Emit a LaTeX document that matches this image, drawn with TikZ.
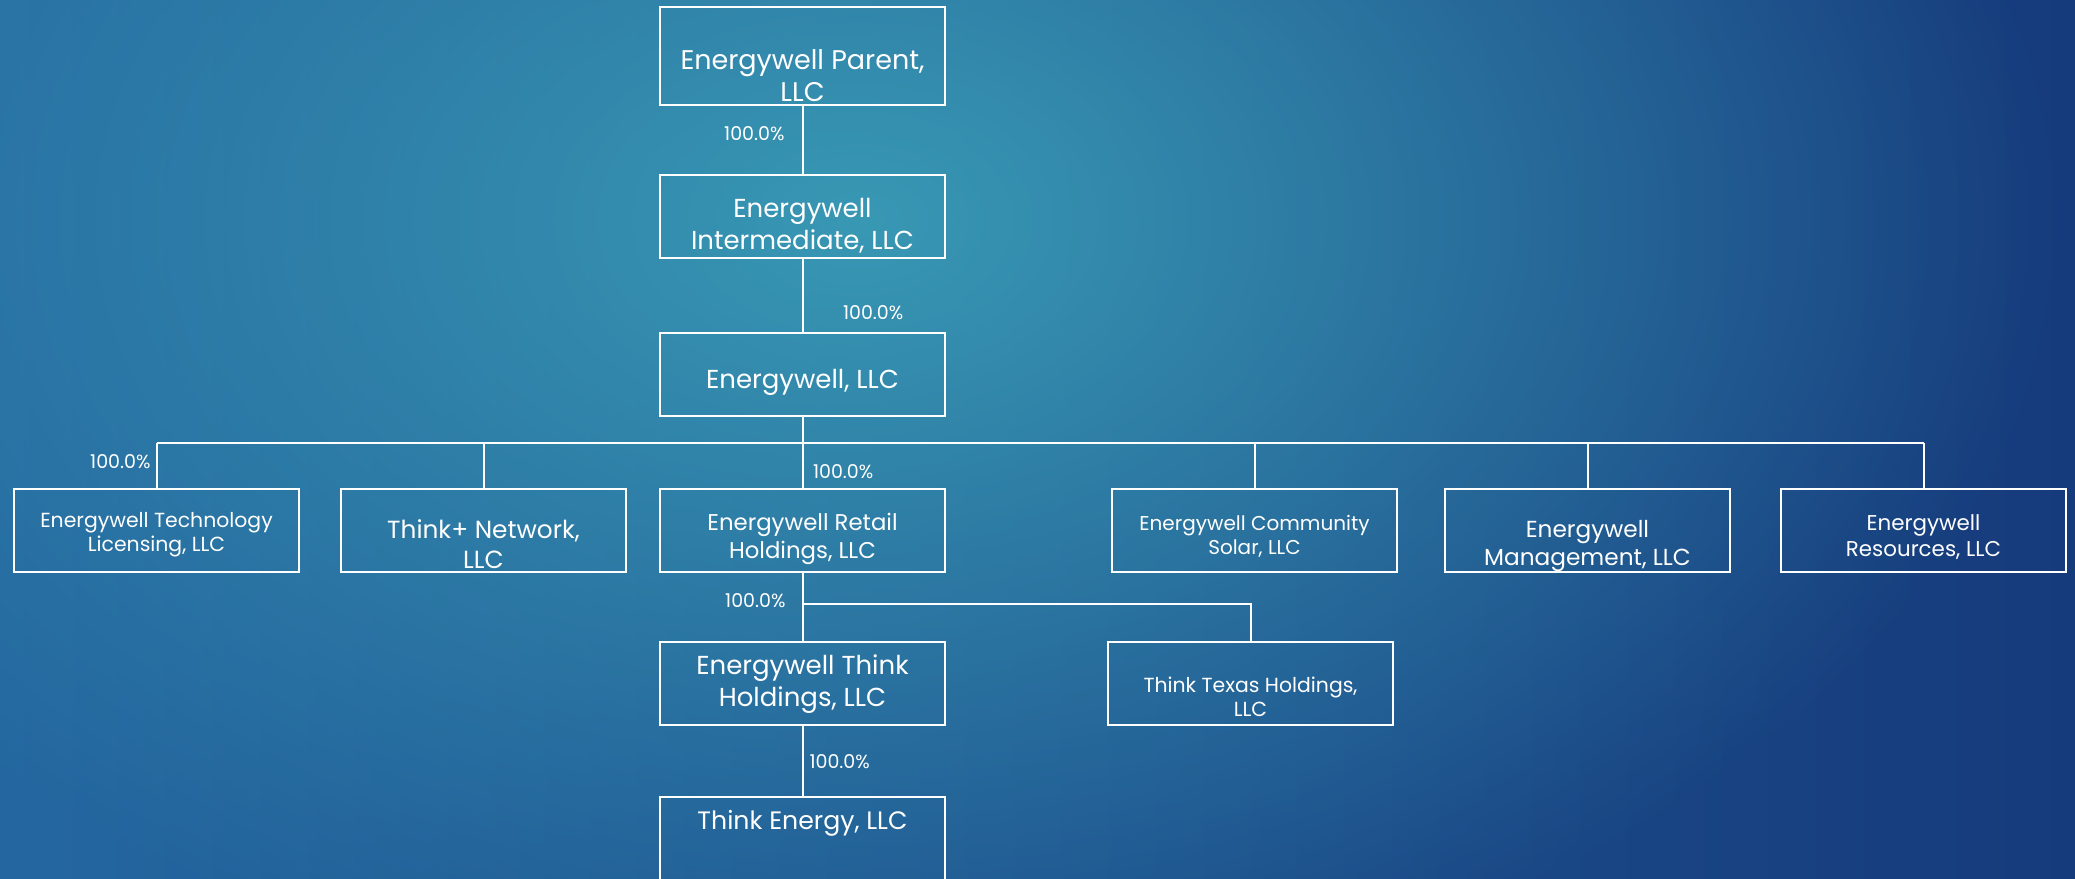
\documentclass[tikz,border=0pt]{standalone}
\usepackage{fontspec}
\setmainfont{Poppins}
\usepackage{tikz}
\usetikzlibrary{positioning,fadings}
\definecolor{bgleft}{HTML}{2467A0}
\definecolor{bgright}{HTML}{163B7C}
\definecolor{glow}{HTML}{3A9CB6}
\tikzfading[name=glowfade,inner color=transparent!5,outer color=transparent!100]
\def\fs#1#2{\fontsize{#1}{#2}\selectfont}

\begin{document}
\begin{tikzpicture}[x=0.5pt,y=-0.5pt,
    ent/.style={draw=white,line width=1.1pt,minimum width=142.5pt,minimum height=41.5pt,inner sep=0pt,outer sep=0pt},
    txt/.style={text=white,align=center,font=#1},
    link/.style={draw=white,line width=1pt},
    pct/.style={text=white,font=\fs{9.5}{11},inner sep=0pt}]
  \useasboundingbox (0,0) rectangle (2075,878);
  \clip (0,0) rectangle (2075,878);
  % background
  \fill[left color=bgleft,right color=bgright] (0,0) rectangle (2075,878);
  \fill[glow,path fading=glowfade] (860,220) ellipse (1200 and 800);

  % ownership chain
  \node[ent,minimum height=49pt,label={[txt=\fs{13.5}{16},yshift=-9.75pt]center:{Energywell Parent,\\LLC}}] (parent) at (802.5,55.6) {};
  \node[ent,below=35pt of parent,label={[txt=\fs{13}{16},yshift=-5pt]center:{Energywell\\Intermediate, LLC}}] (inter) {};
  \node[ent,below=37.75pt of inter,label={[txt=\fs{13}{16},yshift=-3.7pt]center:{Energywell, LLC}}] (ewell) {};

  % subsidiaries of Energywell, LLC
  \node[ent,below=36.6pt of ewell,label={[txt=\fs{11.4}{14},yshift=-4pt]center:{Energywell Retail\\Holdings, LLC}}] (retail) {};
  \node[ent,left=17pt of retail,label={[txt=\fs{12.4}{15},yshift=-6.75pt]center:{Think+ Network,\\LLC}}] (thinkp) {};
  \node[ent,left=21pt of thinkp,label={[txt=\fs{10.2}{12},yshift=-1.85pt]center:{Energywell Technology\\Licensing, LLC}}] (tech) {};
  \node[ent,right=83.5pt of retail,label={[txt=\fs{10}{12},yshift=-3pt]center:{Energywell Community\\Solar, LLC}}] (solar) {};
  \node[ent,right=24pt of solar,label={[txt=\fs{11.6}{14},yshift=-7.75pt]center:{Energywell\\Management, LLC}}] (mgmt) {};
  \node[ent,right=25.5pt of mgmt,label={[txt=\fs{10.7}{13},yshift=-3pt]center:{Energywell\\Resources, LLC}}] (res) {};

  % retail branch
  \node[ent,below=35pt of retail,label={[txt=\fs{13}{16}]center:{Energywell Think\\Holdings, LLC}}] (thold) {};
  \node[ent,right=81.5pt of thold,label={[txt=\fs{10.2}{12},yshift=-6.5pt]center:{Think Texas Holdings,\\LLC}}] (texas) {};
  \node[ent,below=35.7pt of thold,label={[txt=\fs{12.6}{15},yshift=7.35pt]center:{Think Energy, LLC}}] (tenergy) {};

  \coordinate (bus) at (0,442.7);
  \coordinate (bus2) at (0,604.3);

  \draw[link] (parent) -- node[pct,left=8.5pt,pos=.42] (p1) {100.0\%} (inter);
  \draw[link] (inter) -- node[pct,right=19.75pt,pos=.73] (p2) {100.0\%} (ewell);
  \draw[link] (ewell) -- node[pct,right=4.75pt,pos=.755] (p4) {100.0\%} (retail);
  \draw[link] (tech.north |- bus) -- (res.north |- bus);
  \draw[link] (tech.north |- bus) -- node[pct,left=2.5pt,pos=.41] (p3) {100.0\%} (tech);
  \foreach \n in {thinkp,solar,mgmt,res}
    \draw[link] (\n.north |- bus) -- (\n);
  \draw[link] (retail) -- node[pct,left=8pt,pos=.41] (p5) {100.0\%} (thold);
  \draw[link] (retail.south |- bus2) -| (texas);
  \draw[link] (thold) -- node[pct,right=3pt,pos=.51] (p6) {100.0\%} (tenergy);
\end{tikzpicture}
\end{document}
